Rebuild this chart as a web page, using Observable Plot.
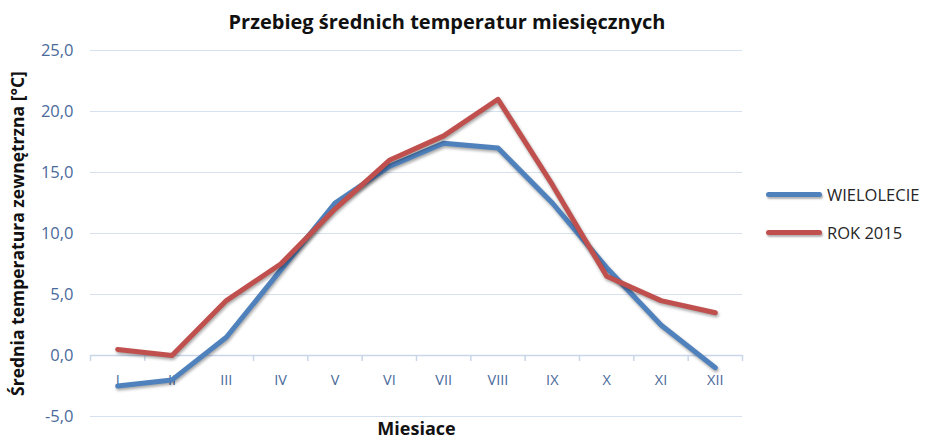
<!DOCTYPE html>
<html><head><meta charset="utf-8">
<script src="https://cdn.jsdelivr.net/npm/d3@7"></script>
<script src="https://cdn.jsdelivr.net/npm/@observablehq/plot@0.6"></script>
<style>
body{margin:0;background:#fff;font-family:"Open Sans",sans-serif;}
#wrap{position:relative;width:932px;height:441px;overflow:hidden;}
#title{position:absolute;left:0;top:0;width:894px;text-align:center;font-weight:bold;font-size:20px;line-height:44px;color:#111;}
#chart{position:absolute;left:0;top:38px;}
#legend{position:absolute;left:766px;top:175px;font-size:16.5px;color:#262626;}
.item{display:flex;align-items:center;height:38px;}
.sw{width:56px;height:5px;border-radius:3px;margin-right:5px;}
.lineShadow path{filter:drop-shadow(1px 2px 1.5px rgba(0,0,0,0.35));}
</style></head>
<body><div id="wrap"><div id="title">Przebieg średnich temperatur miesięcznych</div><div id="chart"></div><div id="legend"></div></div>
<script>
const months = ["I","II","III","IV","V","VI","VII","VIII","IX","X","XI","XII"];
const wielolecie = [-2.5,-2.0,1.5,7.0,12.5,15.5,17.4,17.0,12.5,7.2,2.5,-1.0];
const rok2015 = [0.5,0.0,4.5,7.5,12.0,16.0,18.0,21.0,14.0,6.5,4.5,3.5];
const seriesNames = ["WIELOLECIE","ROK 2015"];
const seriesColors = ["#4F81BD","#C0504D"];
const yTicks = [-5,0,5,10,15,20,25];
const yLabel = "Średnia temperatura zewnętrzna [°C]";
const xLabel = "Miesiace";

const rows = [];
[wielolecie, rok2015].forEach((vals, s) => vals.forEach((v, i) => rows.push({m: i + 1, v, s: seriesNames[s]})));
const monthRows = months.map((name, i) => ({m: i + 1, name}));
const boundaries = d3.range(months.length + 1).map(i => i + 0.5);
const fmt = d => d.toFixed(1).replace(".", ",");
const tickColor = "#4A6A9B";

const plot = Plot.plot({
  width: 932, height: 403,
  marginLeft: 90, marginRight: 190, marginTop: 12, marginBottom: 25,
  style: {fontFamily: "'Open Sans', sans-serif", background: "transparent"},
  x: {domain: [0.5, months.length + 0.5], axis: null},
  y: {domain: [-5, 25], ticks: yTicks, axis: null},
  color: {domain: seriesNames, range: seriesColors},
  marks: [
    Plot.gridY(yTicks, {stroke: "#D6E1F0", strokeOpacity: 1, strokeWidth: 1}),
    Plot.axisY(yTicks, {tickSize: 0, tickPadding: 17, tickFormat: fmt, fill: tickColor, fontSize: 16.5, label: null}),
    Plot.ruleY([0], {stroke: "#C9D6EA", strokeWidth: 1.5}),
    Plot.ruleX(boundaries, {x: d => d, y1: 0, y2: -0.5, stroke: "#C9D6EA", strokeWidth: 1.5}),
    Plot.text(monthRows, {x: "m", y: 0, dy: 25, text: "name", fill: tickColor, fontSize: 14.5}),
    Plot.line(rows, {x: "m", y: "v", z: "s", stroke: "s", strokeWidth: 5, strokeLinejoin: "round", strokeLinecap: "round", className: "lineShadow"}),
    Plot.text([yLabel], {frameAnchor: "left", rotate: -90, dx: -72, textAnchor: "middle", lineAnchor: "middle", text: d => d, fontWeight: "bold", fontSize: 17.5, fill: "#111"}),
    Plot.text([xLabel], {frameAnchor: "bottom", dy: 18, lineAnchor: "bottom", text: d => d, fontWeight: "bold", fontSize: 18, fill: "#111"})
  ]
});
document.getElementById("chart").appendChild(plot);

const leg = document.getElementById("legend");
seriesNames.forEach((n, i) => {
  const it = document.createElement("div"); it.className = "item";
  const sw = document.createElement("div"); sw.className = "sw"; sw.style.background = seriesColors[i];
  sw.style.boxShadow = "1px 2px 2px rgba(0,0,0,0.3)";
  const t = document.createElement("span"); t.textContent = n;
  it.appendChild(sw); it.appendChild(t); leg.appendChild(it);
});
</script></body></html>
